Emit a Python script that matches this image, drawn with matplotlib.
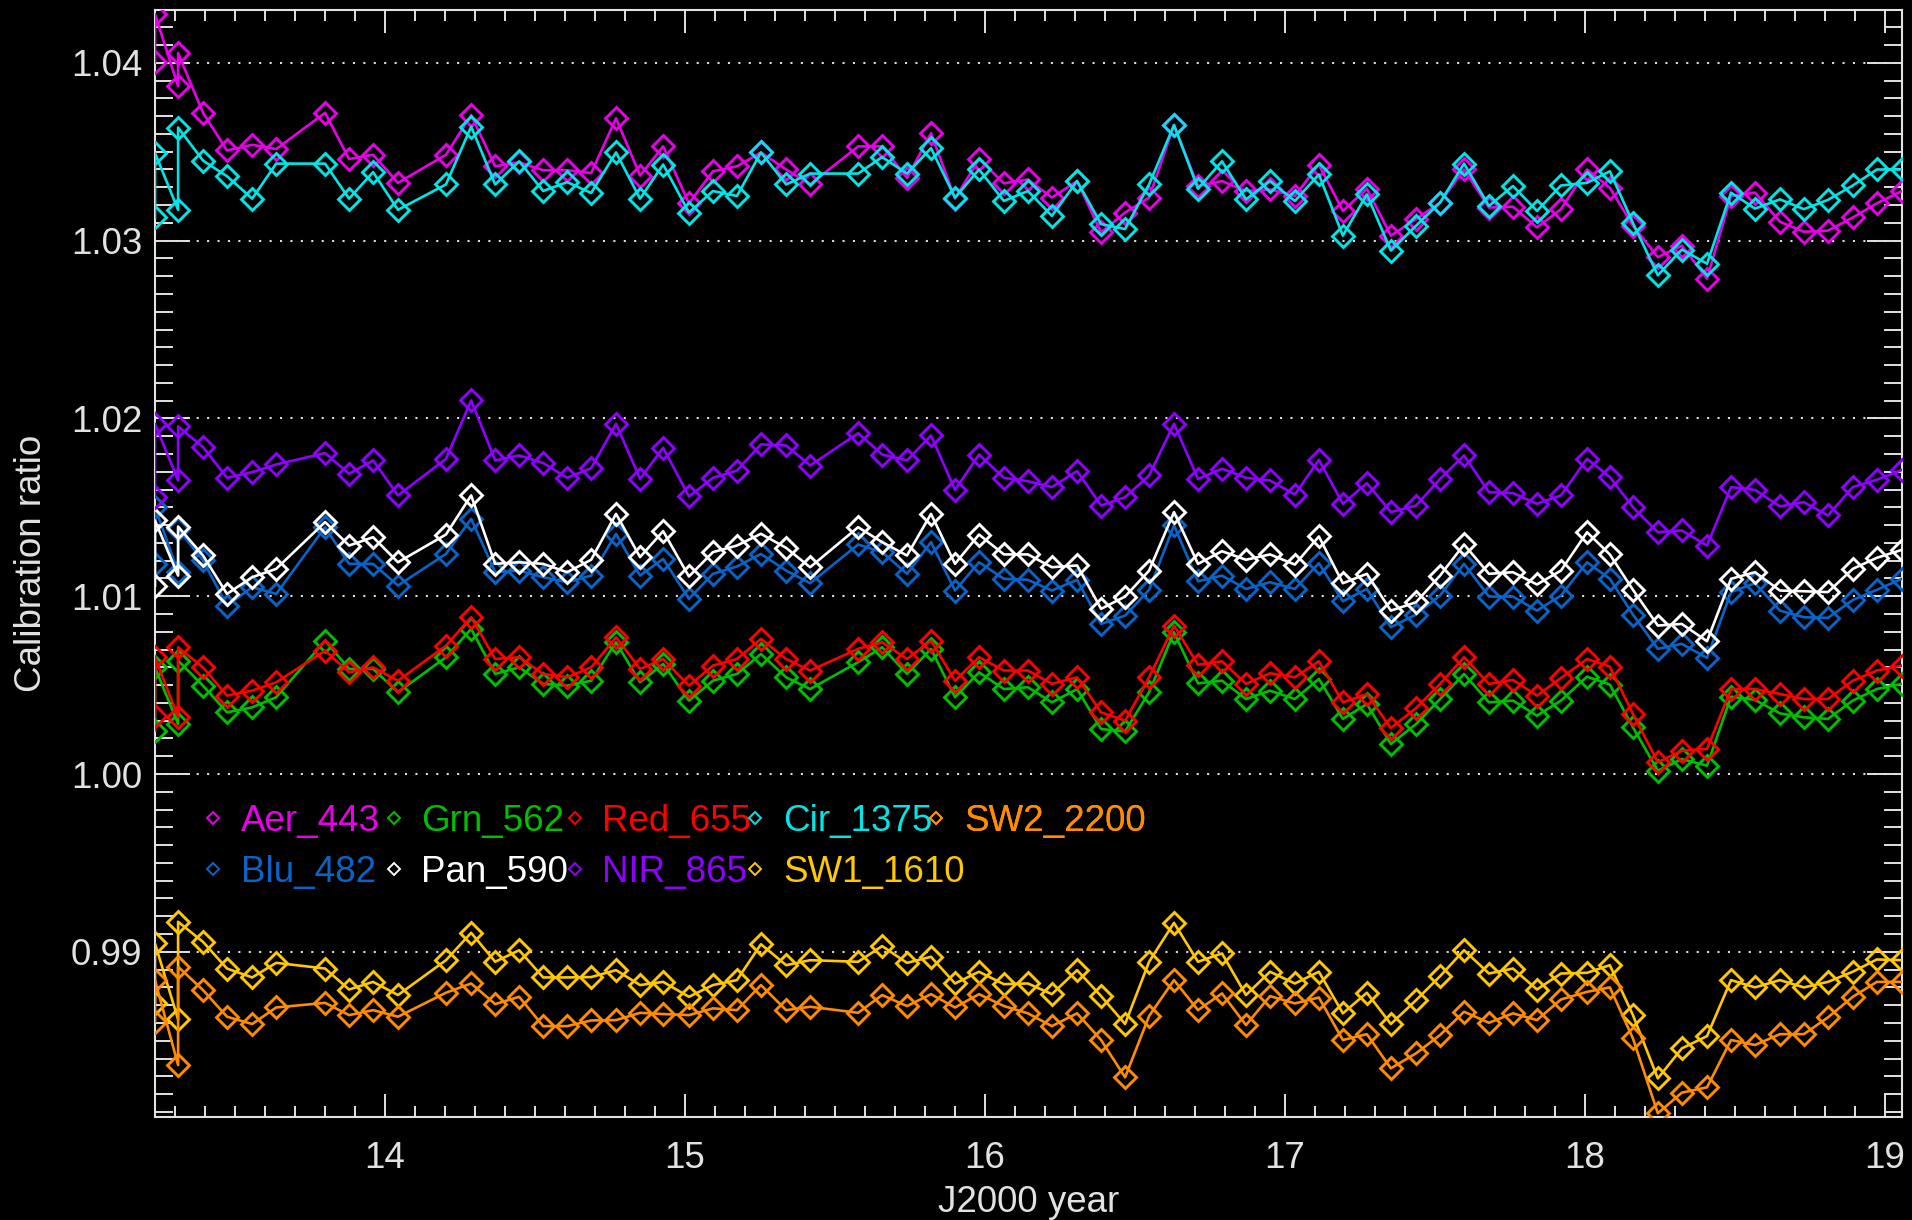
import matplotlib
matplotlib.use('Agg')
import matplotlib.pyplot as plt
from matplotlib.ticker import MultipleLocator, FixedLocator
from matplotlib.lines import Line2D

# ---------------- data ----------------
years = [13.233, 13.233, 13.310, 13.310, 13.393, 13.473, 13.557, 13.637, 13.800, 13.880,
         13.960, 14.043, 14.203, 14.287, 14.367, 14.447, 14.527, 14.607, 14.687, 14.770,
         14.850, 14.927, 15.013, 15.093, 15.173, 15.253, 15.337, 15.417, 15.577, 15.657,
         15.740, 15.820, 15.900, 15.980, 16.063, 16.143, 16.223, 16.307, 16.387, 16.467,
         16.547, 16.630, 16.710, 16.790, 16.870, 16.950, 17.033, 17.113, 17.193, 17.273,
         17.353, 17.437, 17.517, 17.597, 17.680, 17.760, 17.840, 17.920, 18.007, 18.083,
         18.160, 18.243, 18.323, 18.407, 18.487, 18.567, 18.650, 18.730, 18.810, 18.893,
         18.973, 19.057]

aer_443 = [1.04004, 1.04273, 1.03868, 1.04054,
           1.03719, 1.03507, 1.03539, 1.03515, 1.03719, 1.03459, 1.03483, 1.03325, 1.03483, 1.03706,
           1.03418, 1.03441, 1.03396, 1.03396, 1.03380,
           1.03688, 1.03366, 1.03530, 1.03210, 1.03390, 1.03418, 1.03496, 1.03400, 1.03316, 1.03530,
           1.03530, 1.03353, 1.03604, 1.03236, 1.03459, 1.03322,
           1.03344, 1.03242, 1.03335, 1.03046, 1.03158, 1.03242, 1.03650, 1.03307, 1.03335, 1.03279,
           1.03288, 1.03251, 1.03428, 1.03167, 1.03292, 1.03028, 1.03121, 1.03214,
           1.03400, 1.03186, 1.03191, 1.03074, 1.03177, 1.03400, 1.03297, 1.03084, 1.02907, 1.02972,
           1.02786, 1.03251, 1.03270, 1.03106, 1.03050, 1.03056, 1.03130, 1.03210, 1.03279]

blu_482 = [1.01182, 1.01501, 1.01135, 1.01379,
           1.01201, 1.00947, 1.01051, 1.01013, 1.01388, 1.01182, 1.01182, 1.01060, 1.01238, 1.01435,
           1.01135, 1.01144, 1.01107, 1.01079, 1.01116,
           1.01351, 1.01116, 1.01210, 1.00985, 1.01126, 1.01167, 1.01238, 1.01144, 1.01073, 1.01291,
           1.01248, 1.01126, 1.01304, 1.01032, 1.01191, 1.01098,
           1.01092, 1.01032, 1.01092, 1.00844, 1.00891, 1.01036, 1.01398, 1.01084, 1.01116, 1.01041,
           1.01079, 1.01041, 1.01186, 1.00972, 1.01041, 1.00826, 1.00897, 1.01004,
           1.01182, 1.00998, 1.00998, 1.00919, 1.01004, 1.01191, 1.01098, 1.00897, 1.00704, 1.00732,
           1.00653, 1.01023, 1.01073, 1.00919, 1.00882, 1.00878, 1.00979, 1.01036, 1.01098]

grn_562 = [1.00244, 1.00600, 1.00281, 1.00638,
           1.00497, 1.00347, 1.00375, 1.00432, 1.00750, 1.00591, 1.00591, 1.00460, 1.00657, 1.00816,
           1.00563, 1.00600, 1.00507, 1.00497, 1.00525,
           1.00741, 1.00516, 1.00619, 1.00413, 1.00525, 1.00563, 1.00675, 1.00544, 1.00478, 1.00629,
           1.00713, 1.00563, 1.00704, 1.00432, 1.00572, 1.00478,
           1.00488, 1.00403, 1.00478, 1.00253, 1.00240, 1.00460, 1.00797, 1.00510, 1.00525, 1.00422,
           1.00469, 1.00422, 1.00535, 1.00310, 1.00394, 1.00169, 1.00281, 1.00422,
           1.00563, 1.00403, 1.00413, 1.00328, 1.00413, 1.00548, 1.00503, 1.00263, 1.00019, 1.00084,
           1.00047, 1.00435, 1.00417, 1.00341, 1.00319, 1.00310, 1.00413, 1.00478, 1.00507]

pan_590 = [1.01060, 1.01426, 1.01116, 1.01392,
           1.01229, 1.01013, 1.01107, 1.01154, 1.01417, 1.01285, 1.01332, 1.01191, 1.01347, 1.01567,
           1.01182, 1.01191, 1.01182, 1.01135, 1.01205,
           1.01463, 1.01220, 1.01366, 1.01111, 1.01248, 1.01285, 1.01351, 1.01272, 1.01163, 1.01388,
           1.01304, 1.01229, 1.01463, 1.01182, 1.01347, 1.01235,
           1.01235, 1.01163, 1.01173, 1.00929, 1.00998, 1.01144, 1.01473, 1.01182, 1.01253, 1.01205,
           1.01235, 1.01178, 1.01336, 1.01073, 1.01126, 1.00919, 1.00966, 1.01116,
           1.01291, 1.01126, 1.01135, 1.01066, 1.01144, 1.01360, 1.01235, 1.01036, 1.00835, 1.00844,
           1.00747, 1.01098, 1.01135, 1.01032, 1.01028, 1.01023, 1.01154, 1.01216, 1.01261]

red_655 = [1.00328, 1.00657, 1.00319, 1.00713,
           1.00600, 1.00441, 1.00469, 1.00516, 1.00694, 1.00572, 1.00600, 1.00525, 1.00722, 1.00882,
           1.00647, 1.00657, 1.00563, 1.00544, 1.00600,
           1.00769, 1.00591, 1.00647, 1.00497, 1.00610, 1.00647, 1.00760, 1.00647, 1.00582, 1.00704,
           1.00741, 1.00647, 1.00750, 1.00525, 1.00657, 1.00582,
           1.00582, 1.00507, 1.00544, 1.00347, 1.00300, 1.00544, 1.00835, 1.00615, 1.00634, 1.00507,
           1.00567, 1.00544, 1.00634, 1.00403, 1.00450, 1.00259, 1.00371, 1.00507,
           1.00657, 1.00507, 1.00529, 1.00441, 1.00540, 1.00647, 1.00604, 1.00338, 1.00066, 1.00131,
           1.00141, 1.00478, 1.00478, 1.00450, 1.00422, 1.00422, 1.00525, 1.00582, 1.00610]

nir_865 = [1.01557, 1.01970, 1.01651, 1.01955,
           1.01839, 1.01666, 1.01698, 1.01741, 1.01805, 1.01689, 1.01764, 1.01567, 1.01773, 1.02101,
           1.01764, 1.01792, 1.01749, 1.01666, 1.01720,
           1.01970, 1.01660, 1.01835, 1.01561, 1.01666, 1.01707, 1.01854, 1.01848, 1.01735, 1.01917,
           1.01797, 1.01764, 1.01904, 1.01598, 1.01797, 1.01666,
           1.01647, 1.01614, 1.01704, 1.01510, 1.01557, 1.01679, 1.01970, 1.01660, 1.01717, 1.01666,
           1.01651, 1.01572, 1.01767, 1.01520, 1.01636, 1.01473, 1.01510, 1.01660,
           1.01792, 1.01585, 1.01580, 1.01520, 1.01567, 1.01773, 1.01670, 1.01501, 1.01360, 1.01370,
           1.01285, 1.01614, 1.01598, 1.01505, 1.01529, 1.01454, 1.01614, 1.01655, 1.01711]

cir_1375 = [1.03130, 1.03493, 1.03173, 1.03636,
            1.03450, 1.03362, 1.03236, 1.03433, 1.03433, 1.03236, 1.03385, 1.03173, 1.03316, 1.03641,
            1.03316, 1.03446, 1.03279, 1.03329, 1.03268,
            1.03496, 1.03236, 1.03428, 1.03158, 1.03279, 1.03251, 1.03496, 1.03316, 1.03377, 1.03377,
            1.03470, 1.03377, 1.03520, 1.03242, 1.03400, 1.03223,
            1.03279, 1.03139, 1.03335, 1.03093, 1.03065, 1.03316, 1.03650, 1.03292, 1.03446, 1.03232,
            1.03335, 1.03223, 1.03372, 1.03028, 1.03260, 1.02944, 1.03084, 1.03214,
            1.03433, 1.03195, 1.03307, 1.03167, 1.03310, 1.03325, 1.03390, 1.03099, 1.02805, 1.02950,
            1.02870, 1.03270, 1.03180, 1.03232, 1.03177, 1.03229, 1.03310, 1.03400, 1.03400]

sw1_1610 = [0.98710, 0.99047, 0.98620, 0.99169,
            0.99056, 0.98906, 0.98856, 0.98938, 0.98906, 0.98788, 0.98831, 0.98757, 0.98953, 0.99107,
            0.98944, 0.99009, 0.98856, 0.98856, 0.98858,
            0.98897, 0.98813, 0.98831, 0.98747, 0.98813, 0.98841, 0.99043, 0.98925, 0.98953, 0.98944,
            0.99032, 0.98938, 0.98972, 0.98822, 0.98888, 0.98818,
            0.98822, 0.98762, 0.98897, 0.98751, 0.98594, 0.98944, 0.99163, 0.98944, 0.98991, 0.98757,
            0.98888, 0.98822, 0.98888, 0.98654, 0.98770, 0.98594, 0.98728, 0.98863,
            0.99009, 0.98878, 0.98906, 0.98788, 0.98878, 0.98882, 0.98925, 0.98644, 0.98288, 0.98457,
            0.98526, 0.98841, 0.98800, 0.98841, 0.98800, 0.98831, 0.98888, 0.98957, 0.98953]

sw2_2200 = [0.98607, 0.98841, 0.98363, 0.98916,
            0.98785, 0.98635, 0.98594, 0.98687, 0.98713, 0.98644, 0.98672, 0.98635, 0.98770, 0.98822,
            0.98706, 0.98747, 0.98582, 0.98582, 0.98614,
            0.98616, 0.98657, 0.98650, 0.98644, 0.98682, 0.98672, 0.98813, 0.98672, 0.98691, 0.98657,
            0.98757, 0.98695, 0.98762, 0.98687, 0.98762, 0.98695,
            0.98654, 0.98582, 0.98654, 0.98504, 0.98294, 0.98639, 0.98841, 0.98672, 0.98766, 0.98588,
            0.98751, 0.98710, 0.98743, 0.98504, 0.98537, 0.98345, 0.98429, 0.98532,
            0.98663, 0.98601, 0.98654, 0.98616, 0.98732, 0.98775, 0.98800, 0.98513, 0.98092, 0.98208,
            0.98238, 0.98504, 0.98476, 0.98537, 0.98537, 0.98631, 0.98747, 0.98831, 0.98831]

band_names = ['Aer_443', 'Blu_482', 'Grn_562', 'Pan_590', 'Red_655',
              'NIR_865', 'Cir_1375', 'SW1_1610', 'SW2_2200']
band_values = [aer_443, blu_482, grn_562, pan_590, red_655,
               nir_865, cir_1375, sw1_1610, sw2_2200]
band_colors = ['#E800E8', '#0A64C8', '#00BE00', '#FFFFFF', '#FF0000',
               '#8F00FF', '#00E6E6', '#FFC800', '#FF8C00']

x_ticks = [14, 15, 16, 17, 18, 19]
x_tick_labels = ['14', '15', '16', '17', '18', '19']
y_ticks = [0.99, 1.00, 1.01, 1.02, 1.03, 1.04]
y_tick_labels = ['0.99', '1.00', '1.01', '1.02', '1.03', '1.04']

# ---------------- figure ----------------
W, H = 1912, 1220
fig = plt.figure(figsize=(W / 100, H / 100), dpi=100, facecolor='black')
L, R, T, B = 155, 1902, 10, 1117
ax = fig.add_axes([L / W, 1 - B / H, (R - L) / W, (B - T) / H])
ax.set_facecolor('black')

fg = '#E2E2E2'
font = 'Liberation Sans'
fsize = 26.5

for name, vals, col in zip(band_names, band_values, band_colors):
    ax.plot(years, vals, color=col, lw=1.9, marker='D', ms=11.5,
            mfc='none', mec=col, mew=2.1, zorder=3)

ax.set_xlim(years[0], years[-1])
ax.set_ylim(0.98071, 1.04297)

ax.xaxis.set_major_locator(FixedLocator(x_ticks))
ax.set_xticklabels(x_tick_labels)
ax.xaxis.set_minor_locator(MultipleLocator(0.1))
ax.yaxis.set_major_locator(FixedLocator(y_ticks))
ax.set_yticklabels(y_tick_labels)
ax.yaxis.set_minor_locator(MultipleLocator(0.001))

ax.tick_params(axis='both', which='both', direction='in', colors=fg,
               top=True, right=True, width=1.4)
ax.tick_params(axis='x', which='major', length=16.5, pad=17)
ax.tick_params(axis='x', which='minor', length=8)
ax.tick_params(axis='y', which='major', length=25, pad=9)
ax.tick_params(axis='y', which='minor', length=13)
for lab in ax.get_xticklabels() + ax.get_yticklabels():
    lab.set_fontfamily(font)
    lab.set_fontsize(fsize)
    lab.set_color(fg)

for s in ax.spines.values():
    s.set_color(fg)
    s.set_linewidth(1.5)

ax.yaxis.grid(True, which='major', color='#DDDDDD', lw=1.5, ls=(0, (1, 4)))
ax.set_axisbelow(False)

ax.set_xlabel('J2000 year', color=fg, fontsize=fsize, family=font, labelpad=7)
ax.set_ylabel('Calibration ratio', color=fg, fontsize=fsize, family=font, labelpad=16)

# legend: IDL-style fixed grid, 5 columns x 2 rows (column-wise order)
col_x0, col_dx = 0.0237, 0.1035
row_y = [0.2668, 0.2207]
for i, (name, c) in enumerate(zip(band_names, band_colors)):
    col, row = divmod(i, 2)
    h = Line2D([], [], color=c, marker='D', ms=6.5, mfc='none', mec=c, mew=1.4, ls='none')
    lg = ax.legend([h], [name], loc='center left',
                   bbox_to_anchor=(col_x0 + col * col_dx, row_y[row]),
                   frameon=False, prop={'family': font, 'size': fsize},
                   handlelength=0.9, handletextpad=0.3, borderpad=0, borderaxespad=0)
    lg.get_texts()[0].set_color(c)
    ax.add_artist(lg)

fig.savefig('out.png', dpi=100, facecolor='black')
